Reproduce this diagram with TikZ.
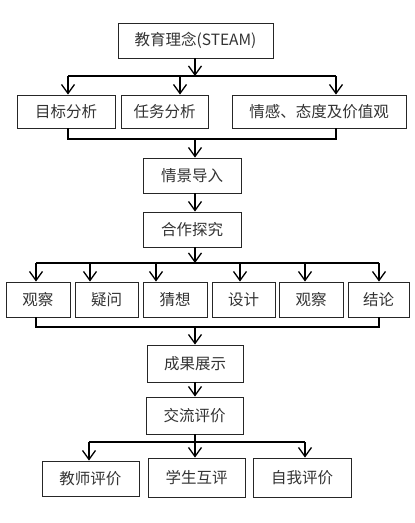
\documentclass[tikz,border=0pt]{standalone}
\usepackage{fontspec}
\newfontfamily\cjk{Noto Sans CJK SC}
\usetikzlibrary{arrows.meta}
\begin{document}
\begin{tikzpicture}[x=1pt,y=-1pt,
  box/.style={draw=black!85,line width=0.9pt,fill=white,font=\cjk\fontsize{15.5}{18}\selectfont,inner sep=0pt,anchor=center,text=black!80},
  conn/.style={line width=1.2pt,black},
  arr/.style={conn,-{Straight Barb[length=9pt,width=13pt,line width=1.3pt]}}]
\useasboundingbox (0,0) rectangle (415,523);
% nodes
\node[box,minimum width=155pt,minimum height=35pt] (top) at (195.5,40.5) {教育理念(STEAM)};
\node[box,minimum width=98pt,minimum height=33pt] (a1) at (66,111.5) {目标分析};
\node[box,minimum width=87pt,minimum height=33pt] (a2) at (164.5,111.5) {任务分析};
\node[box,minimum width=174pt,minimum height=33pt] (a3) at (319,111.5) {情感、态度及价值观};
\node[box,minimum width=98pt,minimum height=35pt] (qj) at (192,175.5) {情景导入};
\node[box,minimum width=98pt,minimum height=35pt] (hz) at (192,229.5) {合作探究};
\node[box,minimum width=64pt,minimum height=35pt] (b1) at (38,299.5) {观察};
\node[box,minimum width=63pt,minimum height=35pt] (b2) at (106.5,299.5) {疑问};
\node[box,minimum width=64pt,minimum height=35pt] (b3) at (175,299.5) {猜想};
\node[box,minimum width=63pt,minimum height=35pt] (b4) at (243.5,299.5) {设计};
\node[box,minimum width=64pt,minimum height=35pt] (b5) at (311,299.5) {观察};
\node[box,minimum width=61pt,minimum height=35pt] (b6) at (378.5,299.5) {结论};
\node[box,minimum width=96pt,minimum height=37pt] (cg) at (195,363.5) {成果展示};
\node[box,minimum width=97pt,minimum height=37pt] (jl) at (194.5,415.5) {交流评价};
\node[box,minimum width=97pt,minimum height=35pt] (c1) at (90.5,478.5) {教师评价};
\node[box,minimum width=97pt,minimum height=39pt] (c2) at (196.5,477.5) {学生互评};
\node[box,minimum width=98pt,minimum height=39pt] (c3) at (302,477.5) {自我评价};
% junction coordinates
\coordinate (j1) at (195,76);
\coordinate (j1l) at (68,76);
\coordinate (j1m) at (180,76);
\coordinate (j1r) at (336,76);
\coordinate (k1) at (195,139);
\coordinate (k1l) at (68,139);
\coordinate (k1r) at (336,139);
\coordinate (j2) at (195,263);
\coordinate (j2a) at (36,263);
\coordinate (j2b) at (90,263);
\coordinate (j2c) at (156,263);
\coordinate (j2d) at (240,263);
\coordinate (j2e) at (305,263);
\coordinate (j2f) at (379,263);
\coordinate (k2) at (195,327);
\coordinate (k2l) at (36,327);
\coordinate (k2r) at (379,327);
\coordinate (j3) at (195,442);
\coordinate (j3l) at (89,442);
\coordinate (j3r) at (305,442);
% connectors
\draw[arr] (top.south -| j1) -- (j1);
\draw[conn] (j1l) -- (j1r);
\draw[arr] (j1l) -- (j1l |- a1.north);
\draw[arr] (j1m) -- (j1m |- a2.north);
\draw[arr] (j1r) -- (j1r |- a3.north);
\draw[conn] (a1.south -| k1l) -- (k1l) -- (k1r) -- (a3.south -| k1r);
\draw[arr] (k1) -- (k1 |- qj.north);
\draw[arr] (qj.south -| k1) -- (k1 |- hz.north);
\draw[arr] (hz.south -| j2) -- (j2);
\draw[conn] (j2a) -- (j2f);
\draw[arr] (j2a) -- (j2a |- b1.north);
\draw[arr] (j2b) -- (j2b |- b2.north);
\draw[arr] (j2c) -- (j2c |- b3.north);
\draw[arr] (j2d) -- (j2d |- b4.north);
\draw[arr] (j2e) -- (j2e |- b5.north);
\draw[arr] (j2f) -- (j2f |- b6.north);
\draw[conn] (b1.south -| k2l) -- (k2l) -- (k2r) -- (b6.south -| k2r);
\draw[arr] (k2) -- (k2 |- cg.north);
\draw[arr] (cg.south -| k2) -- (k2 |- jl.north);
\draw[conn] (jl.south -| j3) -- (j3);
\draw[conn] (j3l) -- (j3r);
\draw[arr] (j3l) -- (j3l |- c1.north);
\draw[arr] (j3) -- (j3 |- c2.north);
\draw[arr] (j3r) -- (j3r |- c3.north);
\end{tikzpicture}
\end{document}
